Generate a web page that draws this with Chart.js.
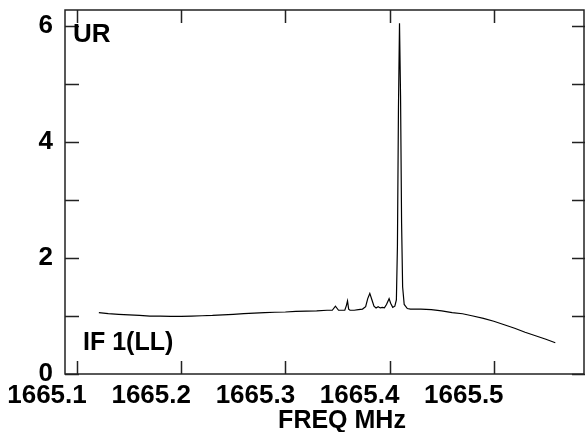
<!DOCTYPE html>
<html>
<head>
<meta charset="utf-8">
<script src="https://cdn.jsdelivr.net/npm/chart.js@4/dist/chart.umd.min.js"></script>
<style>
  html, body { margin: 0; padding: 0; background: #fff; }
  #wrap { width: 585px; height: 432px; position: relative; }
</style>
</head>
<body>
<div id="wrap"><canvas id="spec"></canvas></div>
<script>
// spectrum: frequency (MHz) and amplitude
const freqs = [
  1665.121, 1665.13, 1665.14, 1665.15, 1665.16, 1665.17, 1665.18, 1665.19, 1665.20,
  1665.21, 1665.22, 1665.23, 1665.24, 1665.25, 1665.26, 1665.27, 1665.28, 1665.29,
  1665.30, 1665.31, 1665.32, 1665.33, 1665.34, 1665.345, 1665.348, 1665.351, 1665.355,
  1665.357, 1665.3585, 1665.3596, 1665.3607, 1665.362, 1665.366, 1665.370, 1665.374,
  1665.377, 1665.379, 1665.381, 1665.383, 1665.385, 1665.387, 1665.389, 1665.391,
  1665.393, 1665.395, 1665.397, 1665.3995, 1665.401, 1665.403, 1665.405, 1665.4065,
  1665.4075, 1665.4085, 1665.4095, 1665.4105, 1665.4115, 1665.4125, 1665.414, 1665.417,
  1665.42, 1665.43, 1665.44, 1665.45, 1665.46, 1665.47, 1665.48, 1665.49, 1665.50,
  1665.51, 1665.52, 1665.53, 1665.54, 1665.55, 1665.559
];
const amps = [
  1.06, 1.04, 1.03, 1.02, 1.01, 1.00, 1.00, 0.995, 0.995,
  1.00, 1.005, 1.01, 1.02, 1.03, 1.04, 1.05, 1.06, 1.065,
  1.07, 1.08, 1.085, 1.09, 1.10, 1.10, 1.17, 1.10, 1.10,
  1.10, 1.18, 1.26, 1.12, 1.10, 1.10, 1.11, 1.12,
  1.16, 1.30, 1.39, 1.28, 1.17, 1.14, 1.16, 1.14,
  1.15, 1.14, 1.20, 1.30, 1.22, 1.15, 1.17, 1.28,
  2.2, 4.6, 6.05, 4.8, 2.6, 1.5, 1.2, 1.13,
  1.12, 1.12, 1.11, 1.09, 1.06, 1.04, 1.00, 0.96, 0.91,
  0.85, 0.79, 0.72, 0.66, 0.60, 0.54
];

const xMin = 1665.0885, xMax = 1665.5875;
const yMin = 0, yMax = 6.28;
const xLabel = 'FREQ MHz';
const topLabel = 'UR';
const bottomLabel = 'IF 1(LL)';

const FONT = '"Liberation Sans", Arial, sans-serif';

const points = freqs.map((f, i) => ({ x: f, y: amps[i] }));

// frame, inward ticks on all four sides, and the annotations
const framePlugin = {
  id: 'frame',
  afterDraw(chart) {
    const ctx = chart.ctx;
    const a = chart.chartArea;
    const xs = chart.scales.x, ys = chart.scales.y;
    ctx.save();
    ctx.strokeStyle = '#222';
    ctx.lineWidth = 1.5;
    ctx.strokeRect(a.left, a.top, a.right - a.left - 1, a.bottom - a.top);
    ctx.beginPath();
    xs.ticks.forEach(t => {
      const px = Math.round(xs.getPixelForValue(t.value)) + 0.5;
      ctx.moveTo(px, a.bottom); ctx.lineTo(px, a.bottom - 13);
      ctx.moveTo(px, a.top); ctx.lineTo(px, a.top + 13);
    });
    ys.ticks.forEach(t => {
      const py = Math.round(ys.getPixelForValue(t.value)) + 0.5;
      ctx.moveTo(a.left, py); ctx.lineTo(a.left + 14, py);
      ctx.moveTo(a.right, py); ctx.lineTo(a.right - 13, py);
    });
    ctx.stroke();

    ctx.fillStyle = '#000';
    ctx.textBaseline = 'alphabetic';
    ctx.font = 'bold 26px ' + FONT;
    ctx.textAlign = 'left';
    ctx.fillText(topLabel, a.left + 8, 42);
    ctx.font = 'bold 25px ' + FONT;
    ctx.fillText(bottomLabel, a.left + 18, 350);
    ctx.textAlign = 'center';
    ctx.fillText(xLabel, (a.left + a.right) / 2 + 17, 428);
    ctx.restore();
  }
};

new Chart(document.getElementById('spec'), {
  type: 'scatter',
  data: {
    datasets: [{
      data: points,
      showLine: true,
      borderColor: '#000',
      borderWidth: 1.2,
      pointRadius: 0,
      tension: 0
    }]
  },
  options: {
    responsive: true,
    maintainAspectRatio: false,
    animation: false,
    layout: { padding: { top: 10, right: 0, left: 0, bottom: 0 } },
    plugins: { legend: { display: false }, tooltip: { enabled: false } },
    scales: {
      x: {
        type: 'linear',
        min: xMin,
        max: xMax,
        grid: { display: false, drawTicks: false },
        border: { display: false },
        ticks: {
          stepSize: 0.1,
          includeBounds: false,
          padding: 6,
          labelOffset: -30,
          color: '#000',
          font: { family: FONT, size: 26, weight: 'bold' },
          maxRotation: 0,
          autoSkip: false,
          callback: v => v.toFixed(1)
        },
        afterFit: s => { s.height = 58; s.paddingLeft = 0; s.paddingRight = 0; }
      },
      y: {
        min: yMin,
        max: yMax,
        grid: { display: false, drawTicks: false },
        border: { display: false },
        ticks: {
          stepSize: 1,
          includeBounds: false,
          padding: 12,
          color: '#000',
          font: { family: FONT, size: 26, weight: 'bold' },
          callback: v => (Math.round(v) % 2 === 0 ? String(Math.round(v)) : '')
        },
        afterFit: s => { s.width = 65; s.paddingTop = 0; s.paddingBottom = 0; }
      }
    }
  },
  plugins: [framePlugin]
});
</script>
</body>
</html>
